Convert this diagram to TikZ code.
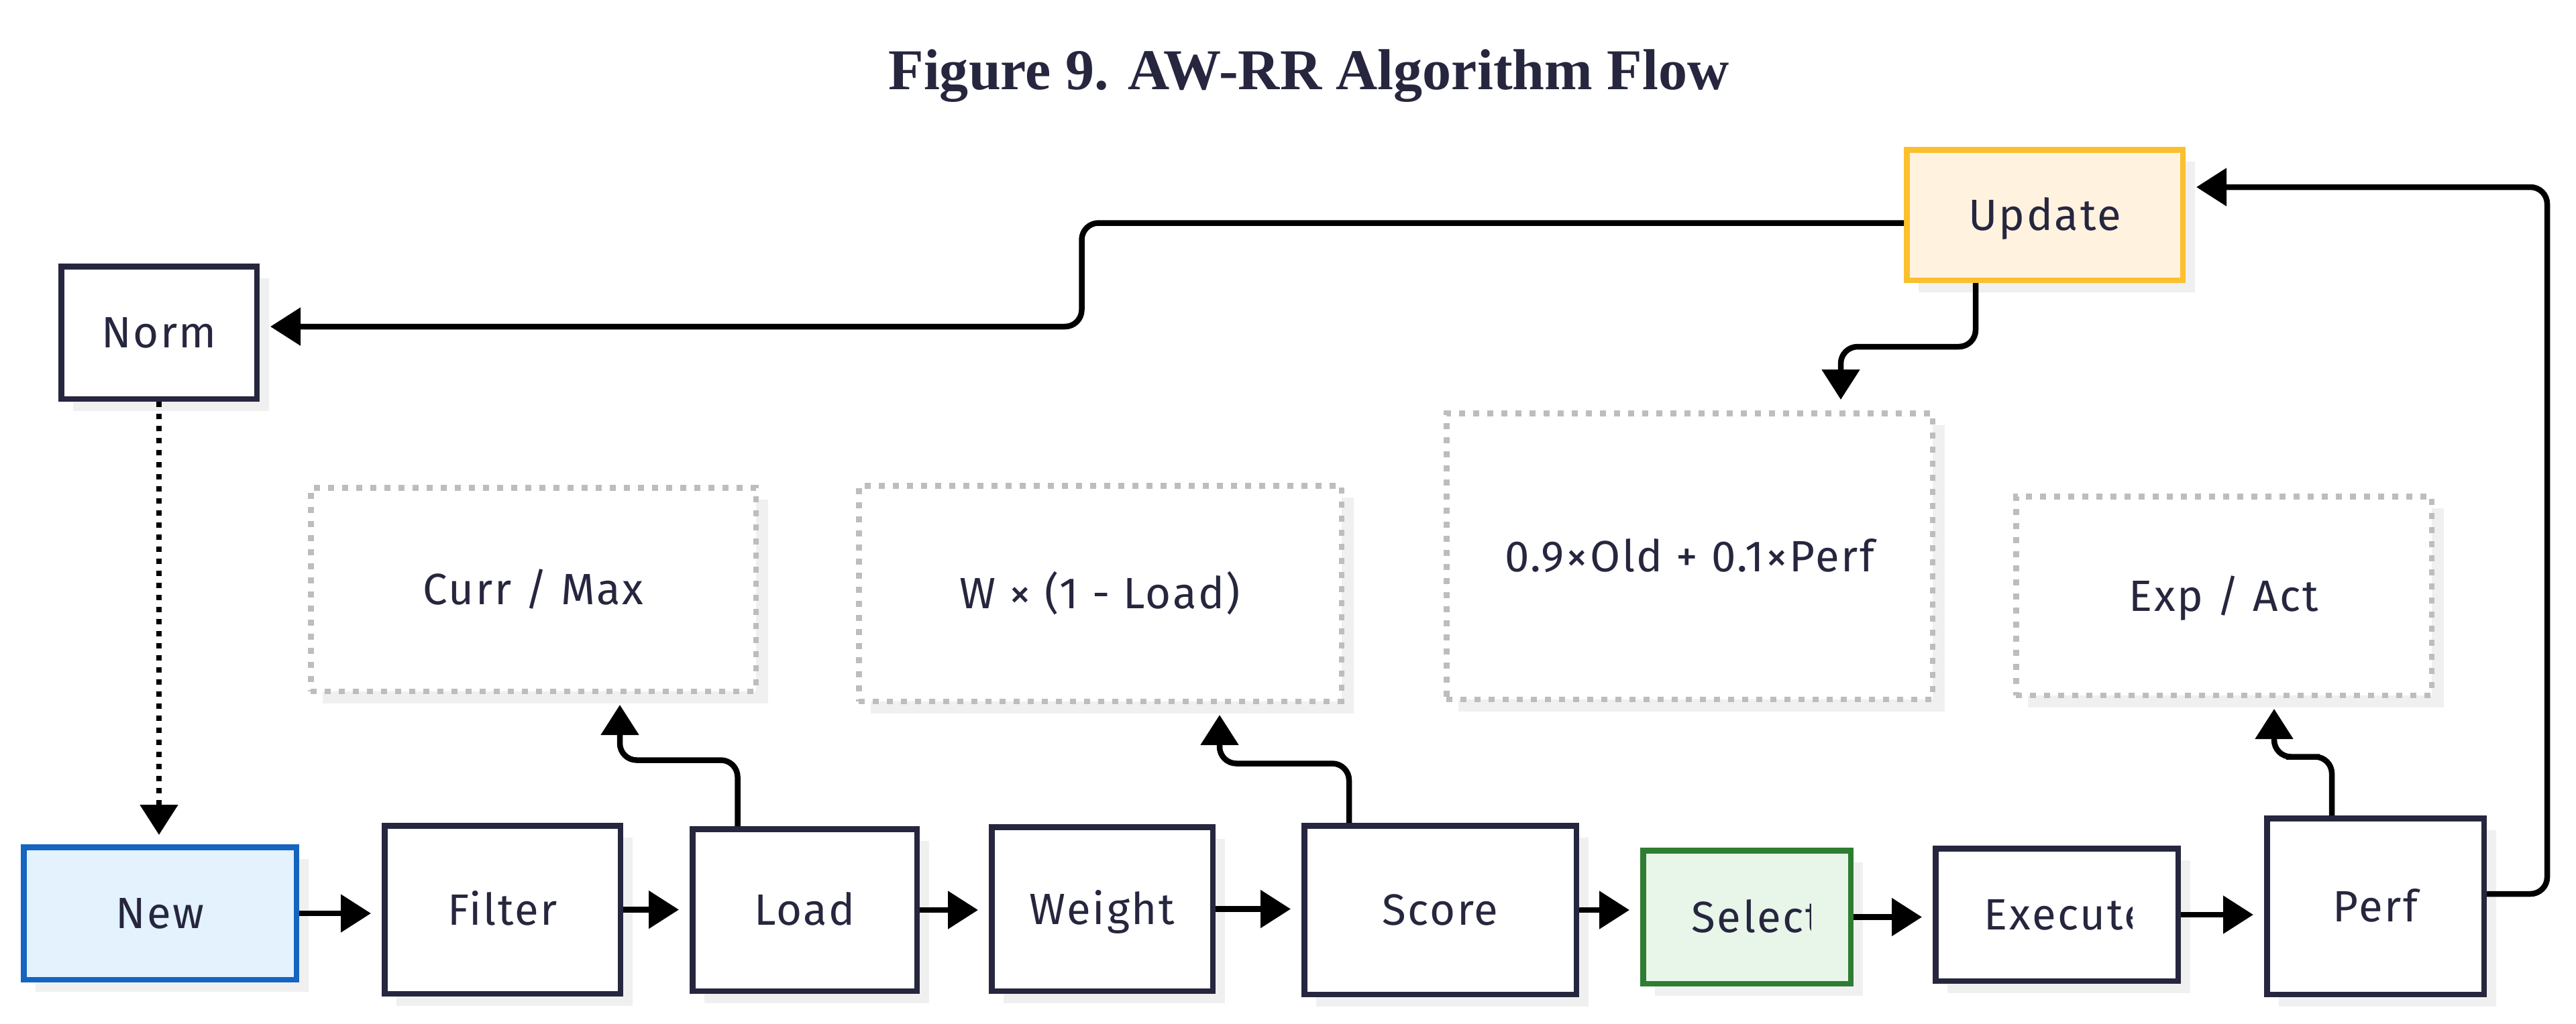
\documentclass[tikz,border=0pt]{standalone}
\usepackage{fontspec}
\setmainfont{Fira Sans}[LetterSpace=4]
\newfontfamily\titlefont{Liberation Serif}
\usetikzlibrary{arrows.meta,calc,shadows}
\definecolor{navy}{HTML}{26263F}
\definecolor{shadowgray}{HTML}{F0F0F0}
\definecolor{dashgray}{HTML}{BDBDBD}
\definecolor{newfill}{HTML}{E3F2FD}
\definecolor{newdraw}{HTML}{1565C0}
\definecolor{selfill}{HTML}{E8F5E9}
\definecolor{seldraw}{HTML}{2E7D32}
\definecolor{updfill}{HTML}{FFF3E0}
\definecolor{upddraw}{HTML}{FBC02D}
\tikzset{
	% Two box styles for the flow: solid process and dashed formula
	proc/.style={draw=navy,line width=0.085cm,fill=white,text=navy,inner sep=0pt,
		text height=0.45cm,text depth=0cm,
		drop shadow={shadow xshift=0.18cm,shadow yshift=-0.18cm,fill=shadowgray,opacity=1}},
	formula/.style={proc,draw=dashgray,dash pattern=on 0.09cm off 0.12cm},
	sz/.style 2 args={minimum width=#1cm,minimum height=#2cm},
	link/.style={line width=0.085cm,rounded corners=0.25cm,shorten >=0.16cm,
		-{Triangle[length=0.45cm,width=0.55cm]}}
}

\begin{document}
\begin{tikzpicture}[font=\fontsize{18.6}{22}\selectfont]
	% macro for a label that runs past its box and is cut off
	\newcommand{\cutlabel}[3][0.73]{
		\begin{scope}
			\clip (#2.south west) rectangle ([xshift=-#1cm]#2.north east);
			\node[anchor=west,text=navy,inner sep=0pt,text height=0.45cm,text depth=0cm]
				(#2-text) at ([xshift=0.76cm]#2.west) {#3};
		\end{scope}}
	\useasboundingbox (0,0) rectangle (38.4,-15.26);
	
	\node[anchor=base,text=navy,font=\titlefont\bfseries\fontsize{24.5}{28}\selectfont]
		(title) at (19.51,-1.33) {Figure 9. AW-RR Algorithm Flow};
	
	% top row
	\node(norm)[proc,sz={2.915}{1.975}] at (2.37,-4.96) {Norm};
	\node(update)[proc,sz={4.115}{1.945},draw=upddraw,fill=updfill] at (30.48,-3.205) {Update};
	
	% formula boxes
	\node(curr)[formula,sz={6.635}{3.035}] at (7.95,-8.79) {Curr / Max};
	\node(wload)[formula,sz={7.195}{3.215}] at (16.40,-8.85) {W × (1 - Load)};
	\node(ewma)[formula,sz={7.245}{4.265}] at (25.185,-8.295) {0.9×Old + 0.1×Perf};
	\node(expact)[formula,sz={6.195}{2.965}] at (33.15,-8.885) {Exp / Act};
	
	% bottom row
	\node(new)[proc,sz={4.065}{1.975},draw=newdraw,fill=newfill] at (2.385,-13.62) {New};
	\node(filter)[proc,sz={3.515}{2.505}] at (7.49,-13.565) {Filter};
	\node(load)[proc,sz={3.345}{2.415}] at (11.995,-13.57) {Load};
	\node(weight)[proc,sz={3.295}{2.445}] at (16.43,-13.555) {Weight};
	\node(score)[proc,sz={4.055}{2.515}] at (21.47,-13.57) {Score};
	\node(select)[proc,sz={3.095}{1.985},draw=seldraw,fill=selfill] at (26.04,-13.675) {};
	\node(execute)[proc,sz={3.615}{1.975}] at (30.66,-13.64) {};
	\node(perf)[proc,sz={3.235}{2.625}] at (35.41,-13.515) {Perf};
	
	\cutlabel[0.64]{select}{Select}
	\cutlabel{execute}{Execute}
	
	% main flow
	\foreach \a/\b in {new/filter,filter/load,load/weight,weight/score,score/select,select/execute,execute/perf}
		\draw[link] (\a.east) -- (\a.east -| \b.west);
	
	% side computations
	\draw[link] ([xshift=-1cm]load.north) |- ($([xshift=-1cm]load.north)!0.5!([xshift=1.29cm]curr.south)$) -| ([xshift=1.29cm]curr.south);
	\draw[link] ([xshift=-1.36cm]score.north) |- ($([xshift=-1.36cm]score.north)!0.5!([xshift=1.78cm]wload.south)$) -| ([xshift=1.78cm]wload.south);
	\draw[link] ([xshift=-0.65cm]perf.north) |- ($([xshift=-0.65cm]perf.north)!0.5!([xshift=0.75cm]expact.south)$) -| ([xshift=0.75cm]expact.south);
	\draw[link] ([xshift=-1.03cm]update.south) |- ($([xshift=-1.03cm]update.south)!0.5!([xshift=2.255cm]ewma.north)$) -| ([xshift=2.255cm]ewma.north);
	
	% feedback loop
	\coordinate (loopR) at (37.97,-8);
	\draw[link] ([yshift=1.85mm]perf.east) -| (loopR) |- ([yshift=4.15mm]update.east);
	\draw[link] ([yshift=-1.2mm]update.west) -| ($([yshift=-1.2mm]update.west)!0.5!([yshift=0.9mm]norm.east)$) |- ([yshift=0.9mm]norm.east);
	\draw[link,rounded corners=0,shorten >=0.14cm,dash pattern=on 0.08cm off 0.1cm] (norm.south) -- (norm.south |- new.north);
\end{tikzpicture}
\end{document}
